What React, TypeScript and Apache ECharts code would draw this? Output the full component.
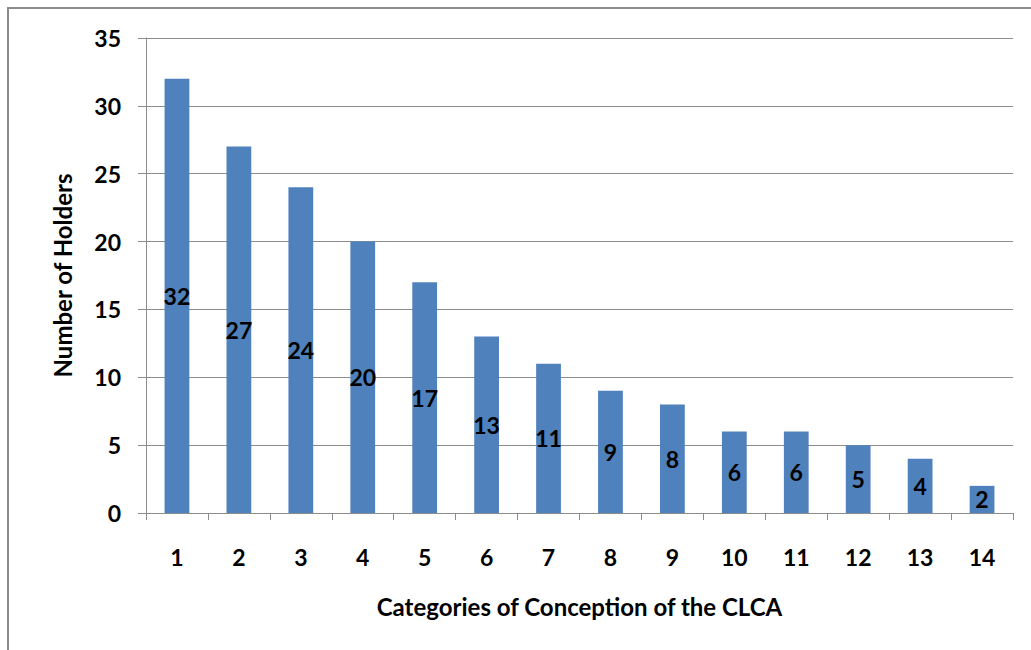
import React, { useEffect, useRef } from "react";
import * as echarts from "echarts";

const categories = ["1", "2", "3", "4", "5", "6", "7", "8", "9", "10", "11", "12", "13", "14"];
const holders = [32, 27, 24, 20, 17, 13, 11, 9, 8, 6, 6, 5, 4, 2];
const yTicks = { min: 0, max: 35, interval: 5 };

const FONT = "Lato, 'Open Sans', 'Liberation Sans', sans-serif";

export default function App() {
  const ref = useRef<HTMLDivElement>(null);
  useEffect(() => {
    if (!ref.current) return;
    const chart = echarts.init(ref.current, undefined, { renderer: "svg" });
    chart.setOption({
      animation: false,
      backgroundColor: "#ffffff",
      graphic: [
        {
          type: "rect",
          shape: { x: 8, y: 8, width: 1100, height: 700 },
          style: { fill: "none", stroke: "#8c8c8c", lineWidth: 2 },
          silent: true,
        },
      ],
      grid: { left: 146, top: 38, right: 18, bottom: 137, containLabel: false },
      xAxis: {
        type: "category",
        data: categories,
        name: "Categories of Conception of the CLCA",
        nameLocation: "middle",
        nameGap: 81,
        nameTextStyle: { fontFamily: FONT, fontSize: 24, fontWeight: "bold", color: "#000" },
        axisLine: { lineStyle: { color: "#8c8c8c", width: 1 } },
        axisTick: { show: true, length: 7, alignWithLabel: false, lineStyle: { color: "#8c8c8c" } },
        axisLabel: { fontFamily: FONT, fontSize: 23, fontWeight: "bold", color: "#000", margin: 32 },
      },
      yAxis: {
        type: "value",
        min: yTicks.min,
        max: yTicks.max,
        interval: yTicks.interval,
        name: "Number of Holders",
        nameLocation: "middle",
        nameGap: 72,
        nameRotate: 90,
        nameTextStyle: { fontFamily: FONT, fontSize: 24, fontWeight: "bold", color: "#000" },
        axisLine: { show: true, lineStyle: { color: "#8c8c8c", width: 1 } },
        axisTick: { show: true, length: 8, lineStyle: { color: "#8c8c8c" } },
        axisLabel: { fontFamily: FONT, fontSize: 23, fontWeight: "bold", color: "#000", margin: 25 },
        splitLine: { show: true, lineStyle: { color: "#8c8c8c", width: 1 } },
      },
      series: [
        {
          type: "bar",
          data: holders,
          barWidth: "40%",
          itemStyle: { color: "#4F81BD" },
          label: {
            show: true,
            position: "inside",
            fontFamily: FONT,
            fontSize: 23,
            fontWeight: "bold",
            color: "#000",
          },
        },
      ],
    });
    return () => chart.dispose();
  }, []);
  return (
    <div
      ref={ref}
      style={{ position: "fixed", left: 0, top: 0, width: 1031, height: 650 }}
    />
  );
}
